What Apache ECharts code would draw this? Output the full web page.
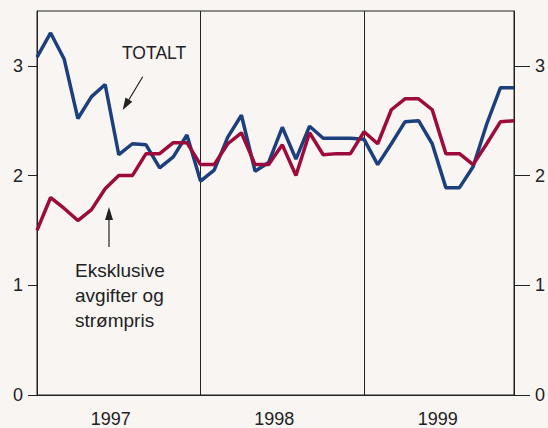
<!DOCTYPE html>
<html>
<head>
<meta charset="utf-8">
<script src="https://cdn.jsdelivr.net/npm/echarts@6/dist/echarts.min.js"></script>
<style>
  html, body { margin: 0; padding: 0; background: #f8f5f2; }
  #main { width: 548px; height: 428px; }
</style>
</head>
<body>
<div id="main"></div>
<script>
// månedlige verdier jan 1997 - des 1999
var months = [];
for (var y = 1997; y <= 1999; y++) {
  for (var m = 1; m <= 12; m++) months.push(y + '-' + m);
}
var yearLabels = ['1997', '1998', '1999'];

var totalt = [
  3.08, 3.30, 3.06, 2.52, 2.72, 2.83, 2.19, 2.29, 2.28, 2.07, 2.17, 2.37,
  1.95, 2.05, 2.35, 2.55, 2.04, 2.12, 2.44, 2.15, 2.45, 2.34, 2.34, 2.34,
  2.33, 2.10, 2.29, 2.49, 2.50, 2.29, 1.89, 1.89, 2.08, 2.47, 2.80, 2.80
];
var eksklusive = [
  1.50, 1.80, 1.70, 1.59, 1.69, 1.88, 2.00, 2.00, 2.20, 2.20, 2.30, 2.30,
  2.10, 2.10, 2.29, 2.39, 2.10, 2.10, 2.28, 2.00, 2.39, 2.19, 2.20, 2.20,
  2.40, 2.29, 2.60, 2.70, 2.70, 2.60, 2.20, 2.20, 2.10, 2.29, 2.49, 2.50
];
var yTicks = [0, 1, 2, 3];

var font = 'Liberation Sans, Arial, sans-serif';
var ink = '#222';

var chart = echarts.init(document.getElementById('main'), null, { renderer: 'svg' });

var yAxisBase = function(pos, tickLen, margin) {
  return {
    type: 'value',
    position: pos,
    min: 0,
    max: 3.5,
    interval: 1,
    axisLine: { show: true, lineStyle: { color: ink, width: 1 } },
    axisTick: { show: true, length: tickLen, customValues: yTicks, lineStyle: { color: ink } },
    axisLabel: {
      customValues: yTicks,
      margin: margin,
      color: ink,
      fontFamily: font,
      fontSize: 18
    },
    splitLine: { show: false }
  };
};

chart.setOption({
  backgroundColor: '#f8f5f2',
  animation: false,
  grid: {
    left: 37, right: 31, top: 11, bottom: 33,
    show: true, borderColor: ink, borderWidth: 1
  },
  xAxis: {
    type: 'category',
    data: months,
    boundaryGap: false,
    axisLine: { show: true, lineStyle: { color: ink } },
    axisTick: { show: false },
    axisLabel: {
      interval: function(i) { return i % 12 === 5; },
      formatter: function(v, i) { return yearLabels[Math.floor(i / 12)]; },
      margin: 15,
      padding: [0, 0, 0, 11],
      color: ink,
      fontFamily: font,
      fontSize: 18
    },
    splitLine: {
      show: true,
      interval: function(i) { return i === 12 || i === 24; },
      lineStyle: { color: ink, width: 1 }
    }
  },
  yAxis: [yAxisBase('left', 9, 14), yAxisBase('right', 16, 21)],
  series: [
    {
      name: 'TOTALT',
      type: 'line',
      data: totalt,
      symbol: 'none',
      lineStyle: { color: '#1c3f7e', width: 3.5 },
      itemStyle: { color: '#1c3f7e' }
    },
    {
      name: 'Eksklusive avgifter og strømpris',
      type: 'line',
      data: eksklusive,
      symbol: 'none',
      lineStyle: { color: '#9c0b3b', width: 3.5 },
      itemStyle: { color: '#9c0b3b' }
    }
  ],
  graphic: [
    {
      type: 'text', left: 122, top: 44,
      style: { text: 'TOTALT', fill: ink, font: '17.5px "Liberation Sans", sans-serif' }
    },
    {
      type: 'line',
      shape: { x1: 142.7, y1: 76.7, x2: 128.9, y2: 99.7 },
      style: { stroke: ink, lineWidth: 1.2 }
    },
    {
      type: 'polygon',
      shape: { points: [[122.7, 110], [132.3, 101.8], [125.5, 97.6]] },
      style: { fill: ink }
    },
    {
      type: 'line',
      shape: { x1: 109, y1: 247, x2: 109, y2: 218 },
      style: { stroke: ink, lineWidth: 1.2 }
    },
    {
      type: 'polygon',
      shape: { points: [[109, 207], [105, 220], [113, 220]] },
      style: { fill: ink }
    },
    {
      type: 'text', left: 75, top: 258,
      style: {
        text: 'Eksklusive\navgifter og\nstrømpris',
        fill: ink,
        font: '19px "Liberation Sans", Arial, sans-serif',
        lineHeight: 25
      }
    }
  ]
});
</script>
</body>
</html>
